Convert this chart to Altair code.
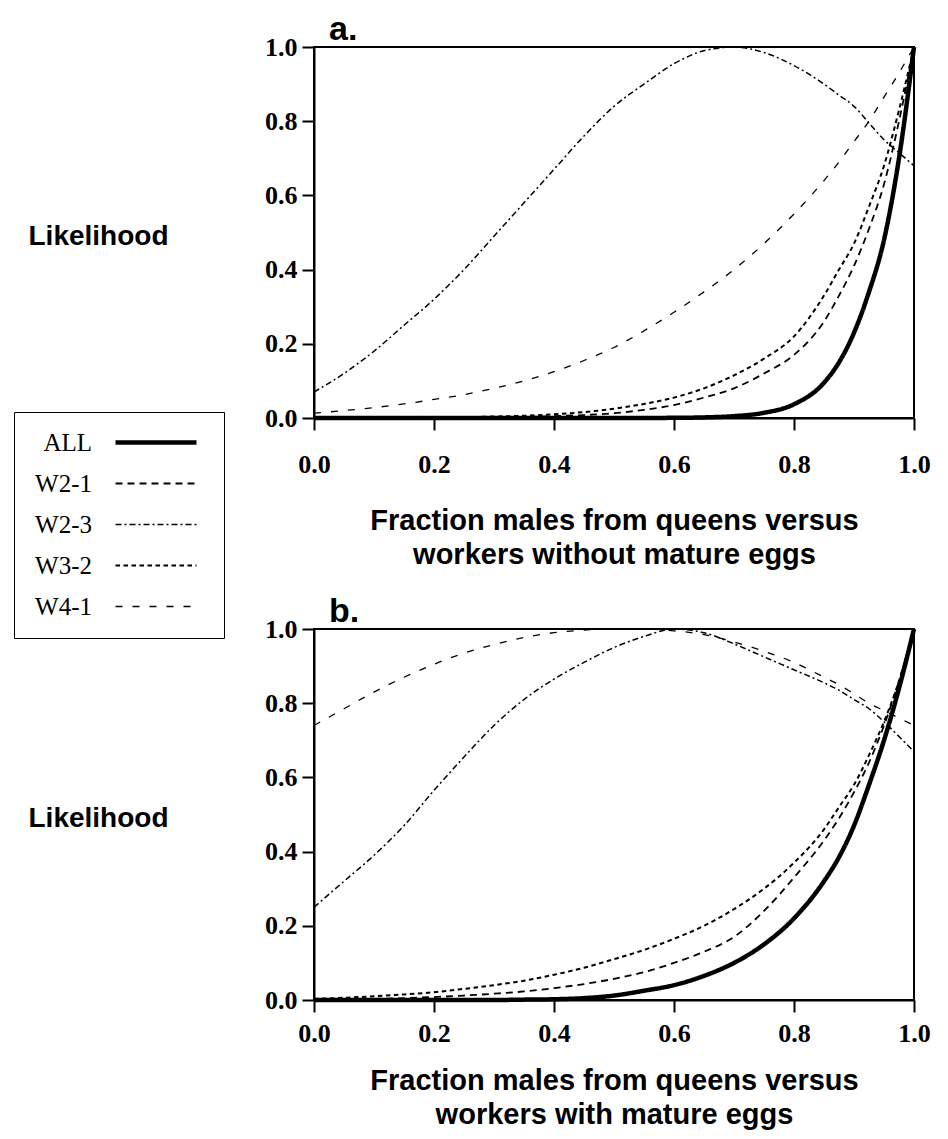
import altair as alt
import pandas as pd

# ---------------- data ----------------
x_pts = [0.0, 0.05, 0.1, 0.15, 0.2, 0.25, 0.3, 0.35, 0.4, 0.45, 0.5, 0.55,
         0.6, 0.65, 0.7, 0.75, 0.8, 0.85, 0.875, 0.9, 0.925, 0.95, 0.975, 1.0]

series_names = ["ALL", "W2-1", "W2-3", "W3-2", "W4-1"]
tick_vals = [0.0, 0.2, 0.4, 0.6, 0.8, 1.0]
panel_labels = ["a.", "b."]

# panel a: workers without mature eggs
a_all  = [0, 0, 0, 0, 0, 0, 0, 0, 0, 0, 0, 0.0001,
          0.0005, 0.0016, 0.005, 0.014, 0.037, 0.095, 0.15, 0.23, 0.34, 0.48, 0.70, 1.0]
a_w21  = [0, 0, 0, 0, 0.001, 0.001, 0.002, 0.003, 0.005, 0.008, 0.013, 0.022,
          0.035, 0.055, 0.08, 0.12, 0.17, 0.26, 0.33, 0.41, 0.51, 0.63, 0.80, 1.0]
a_w23  = [0.07, 0.12, 0.18, 0.25, 0.32, 0.40, 0.49, 0.58, 0.67, 0.76, 0.84, 0.90,
          0.955, 0.99, 1.0, 0.985, 0.95, 0.90, 0.87, 0.84, 0.795, 0.75, 0.715, 0.68]
a_w32  = [0, 0, 0, 0.0005, 0.001, 0.002, 0.004, 0.006, 0.01, 0.016, 0.025, 0.038,
          0.055, 0.08, 0.115, 0.16, 0.22, 0.33, 0.40, 0.47, 0.57, 0.68, 0.83, 1.0]
a_w41  = [0.013, 0.02, 0.028, 0.038, 0.05, 0.063, 0.08, 0.10, 0.125, 0.155, 0.19, 0.235,
          0.285, 0.34, 0.40, 0.47, 0.55, 0.64, 0.69, 0.745, 0.80, 0.865, 0.93, 1.0]

# panel b: workers with mature eggs
b_all  = [0, 0, 0, 0, 0, 0, 0, 0.001, 0.002, 0.005, 0.012, 0.025,
          0.04, 0.065, 0.10, 0.15, 0.22, 0.32, 0.385, 0.47, 0.58, 0.70, 0.84, 1.0]
b_w21  = [0.001, 0.002, 0.003, 0.005, 0.008, 0.012, 0.017, 0.023, 0.032, 0.043, 0.057, 0.075,
          0.10, 0.13, 0.17, 0.24, 0.33, 0.43, 0.49, 0.56, 0.64, 0.74, 0.86, 1.0]
b_w23  = [0.25, 0.32, 0.39, 0.47, 0.565, 0.655, 0.74, 0.81, 0.865, 0.91, 0.95, 0.98,
          1.0, 0.99, 0.96, 0.925, 0.89, 0.855, 0.835, 0.81, 0.785, 0.75, 0.71, 0.67]
b_w32  = [0.003, 0.006, 0.01, 0.015, 0.021, 0.03, 0.04, 0.052, 0.068, 0.087, 0.11, 0.135,
          0.165, 0.20, 0.245, 0.30, 0.37, 0.46, 0.52, 0.58, 0.66, 0.75, 0.86, 1.0]
b_w41  = [0.74, 0.785, 0.83, 0.87, 0.905, 0.935, 0.958, 0.977, 0.99, 0.997, 1.0, 1.0,
          0.995, 0.985, 0.965, 0.94, 0.91, 0.87, 0.85, 0.825, 0.80, 0.78, 0.76, 0.74]

dash_patterns = [[1, 0], [7, 5], [6, 3, 2, 3], [4.5, 3.5], [7, 10]]
line_widths = [4.5, 1.8, 1.5, 2.0, 1.3]


def to_long(d):
    rows = []
    for name, vals in d.items():
        for xv, yv in zip(x_pts, vals):
            rows.append({"x": xv, "y": yv, "series": name})
    return pd.DataFrame(rows)


df_a = to_long({"ALL": a_all, "W2-1": a_w21, "W2-3": a_w23, "W3-2": a_w32, "W4-1": a_w41})
df_b = to_long({"ALL": b_all, "W2-1": b_w21, "W2-3": b_w23, "W3-2": b_w32, "W4-1": b_w41})

W, H = 600, 371

# legend: label on the left, line sample on the right (custom path offset from symbol centre)
legend_props = dict(
    title=None, symbolType="M 7.1 0 L 15.2 0", symbolSize=400,
    labelAlign="right", labelOffset=35,
)


def panel(df, label, xtitle, x_label_pad, x_title_pad, line_h):
    lines = alt.Chart(df).mark_line(color="black", interpolate="monotone").encode(
        x=alt.X("x:Q", scale=alt.Scale(domain=[0, 1], nice=False),
                axis=alt.Axis(values=tick_vals, format=".1f", title=xtitle,
                              labelPadding=x_label_pad, titlePadding=x_title_pad,
                              titleLineHeight=line_h, titleFontSize=29,
                              labelFlush=False, labelOverlap=False)),
        y=alt.Y("y:Q", scale=alt.Scale(domain=[0, 1], nice=False),
                axis=alt.Axis(values=tick_vals, format=".1f", title="Likelihood",
                              labelPadding=5, titleAngle=0, titleAlign="left",
                              titleBaseline="middle", titleX=-286, titleY=H / 2 + 4,
                              labelFlush=False, labelOverlap=False)),
        strokeDash=alt.StrokeDash("series:N",
                                  scale=alt.Scale(type="ordinal", domain=series_names,
                                                  range=dash_patterns),
                                  legend=alt.Legend(**legend_props)),
        strokeWidth=alt.StrokeWidth("series:N",
                                    scale=alt.Scale(type="ordinal", domain=series_names,
                                                    range=line_widths),
                                    legend=alt.Legend(**legend_props)),
    )
    tag = alt.Chart(pd.DataFrame({"label": [label]})).mark_text(
        font="Liberation Sans", fontSize=34, fontWeight="bold", color="black",
        align="left", baseline="alphabetic",
    ).encode(text="label:N", x=alt.value(15), y=alt.value(-7))
    return alt.layer(lines, tag).properties(width=W, height=H)


pa = panel(df_a, panel_labels[0],
           ["Fraction males from queens versus", "workers without mature eggs"], 21, 29, 34)
pb = panel(df_b, panel_labels[1],
           ["Fraction males from queens versus", "workers with mature eggs"], 8, 20, 34)

chart = alt.vconcat(pa, pb, spacing=24).properties(
    background="white",
    padding={"top": 4, "left": 5, "right": 5, "bottom": 0},
).configure_view(
    stroke="black", strokeWidth=2
).configure_axis(
    domainColor="black", domainWidth=2, tickColor="black", tickWidth=2, tickSize=12,
    labelFont="Liberation Serif", labelFontSize=26, labelFontWeight="bold", labelColor="black",
    titleFont="Liberation Sans", titleFontSize=28, titleFontWeight="bold", titleColor="black",
    grid=False,
).configure_legend(
    orient="none", legendX=-300, legendY=365,
    strokeColor="black", fillColor="white", padding=18, cornerRadius=0,
    labelFont="Liberation Serif", labelFontSize=25, labelColor="black",
    symbolStrokeColor="black", rowPadding=15,
)

chart.save("out.html", embed_options={"renderer": "svg", "actions": False})
